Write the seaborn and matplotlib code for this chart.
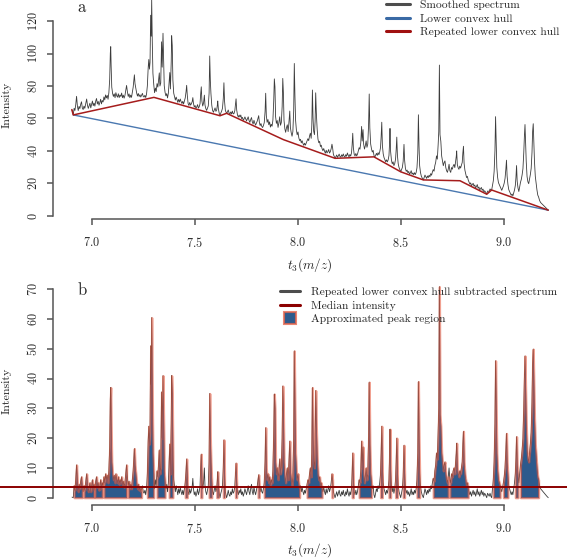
import numpy as np
import matplotlib
matplotlib.use("Agg")
import matplotlib.pyplot as plt
from matplotlib.lines import Line2D
import seaborn as sns

seg1 = [(6.903, 0.2), (6.909, 0.0), (6.913, 4.0), (6.917, 2.5), (6.921, 6.0), (6.925, 11.0), (6.929, 5.0),
        (6.933, 2.0), (6.937, 4.5), (6.941, 3.0), (6.945, 5.5), (6.949, 7.0), (6.953, 3.0), (6.957, 2.0),
        (6.961, 4.0), (6.965, 2.5), (6.969, 5.0), (6.974, 8.0), (6.978, 4.0), (6.982, 2.0), (6.986, 3.5),
        (6.990, 5.0), (6.994, 2.0), (6.998, 4.0), (7.002, 6.0), (7.006, 3.0), (7.010, 4.5), (7.014, 2.5),
        (7.018, 5.5), (7.022, 7.0), (7.026, 3.5), (7.030, 5.0), (7.034, 2.5), (7.038, 4.0), (7.042, 6.0),
        (7.046, 3.0), (7.050, 5.0), (7.054, 4.0), (7.058, 7.0), (7.062, 5.0), (7.066, 8.0), (7.070, 6.0),
        (7.074, 7.5), (7.078, 5.0), (7.082, 9.0), (7.086, 17.0), (7.089, 33.0), (7.091, 37.0), (7.093, 25.0),
        (7.096, 12.0), (7.100, 8.0), (7.104, 6.0), (7.108, 7.5), (7.112, 5.0), (7.116, 8.0), (7.120, 6.0),
        (7.124, 5.0), (7.128, 7.0), (7.132, 4.5), (7.136, 6.0), (7.140, 5.0), (7.144, 7.0), (7.148, 4.0),
        (7.152, 5.5), (7.156, 3.5), (7.160, 5.0), (7.164, 8.0), (7.168, 11.0), (7.172, 7.0), (7.176, 4.0),
        (7.180, 5.5), (7.184, 3.0), (7.188, 4.5), (7.192, 3.0), (7.196, 6.0), (7.200, 9.0), (7.204, 14.0),
        (7.206, 16.5), (7.209, 11.0), (7.213, 8.0), (7.217, 5.0), (7.221, 3.0), (7.225, 4.5), (7.229, 2.5),
        (7.233, 3.5), (7.237, 2.0), (7.241, 3.0), (7.245, 4.0), (7.249, 2.0), (7.253, 1.5), (7.257, 2.5),
        (7.261, 1.0), (7.265, 3.0), (7.269, 8.0), (7.273, 19.0), (7.276, 24.0), (7.279, 18.0), (7.282, 22.0),
        (7.285, 51.0), (7.288, 38.0), (7.290, 60.5), (7.293, 34.0), (7.296, 15.0), (7.300, 8.0), (7.304, 3.0)]

seg2 = [(7.308, 6.0), (7.312, 4.0), (7.316, 9.0), (7.320, 7.0), (7.324, 12.0), (7.327, 16.0), (7.330, 8.0),
        (7.334, 10.0), (7.338, 35.5), (7.341, 20.0), (7.345, 41.0), (7.348, 26.0), (7.351, 9.0), (7.355, 5.0),
        (7.359, 3.0), (7.363, 4.5), (7.367, 2.0), (7.371, 5.0), (7.375, 12.0), (7.378, 18.0), (7.381, 8.0),
        (7.385, 25.0), (7.387, 41.0), (7.390, 35.0), (7.393, 14.0), (7.397, 6.0), (7.401, 4.0), (7.405, 2.0),
        (7.409, 4.0), (7.413, 2.5), (7.417, 1.0), (7.421, 3.0), (7.425, 1.5), (7.429, 3.5), (7.433, 2.0),
        (7.437, 1.0), (7.441, 2.5), (7.445, 1.0), (7.449, 3.0), (7.453, 5.0), (7.457, 9.0), (7.460, 13.0),
        (7.463, 7.0), (7.467, 2.0), (7.471, 1.0), (7.475, 3.0), (7.479, 1.5), (7.483, 2.5), (7.487, 4.0),
        (7.490, 6.5), (7.493, 3.0), (7.497, 1.0), (7.501, 2.0), (7.505, 0.5), (7.509, 1.5), (7.513, 3.0),
        (7.517, 1.0), (7.521, 2.0), (7.525, 4.0), (7.528, 10.0), (7.531, 14.6), (7.534, 6.0), (7.538, 3.0),
        (7.542, 5.0), (7.546, 10.0), (7.549, 4.0), (7.553, 2.0), (7.557, 1.0), (7.561, 2.5), (7.565, 4.0),
        (7.569, 12.0), (7.572, 35.0), (7.575, 20.0), (7.578, 12.0), (7.582, 5.0), (7.586, 2.0), (7.590, 1.0),
        (7.594, 2.5), (7.598, 4.0), (7.602, 2.0), (7.606, 3.0), (7.609, 6.0), (7.611, 8.7), (7.614, 4.0),
        (7.618, 1.5), (7.622, 0.0), (7.626, 1.5), (7.630, 2.5), (7.634, 4.0), (7.638, 10.0), (7.641, 19.4),
        (7.644, 8.0), (7.648, 2.0), (7.654, 0.0)]

seg3 = [(7.658, 1.0), (7.662, 2.5), (7.666, 1.0), (7.670, 0.5), (7.674, 2.0), (7.678, 1.0), (7.682, 3.0),
        (7.686, 1.5), (7.690, 2.0), (7.694, 4.0), (7.697, 8.0), (7.700, 11.6), (7.703, 5.0), (7.707, 2.0),
        (7.711, 1.0), (7.715, 2.5), (7.719, 1.5), (7.723, 3.0), (7.727, 1.0), (7.731, 2.0), (7.735, 0.5),
        (7.739, 1.5), (7.743, 3.0), (7.747, 2.0), (7.751, 1.0), (7.755, 2.5), (7.759, 4.0), (7.763, 2.0),
        (7.767, 1.0), (7.771, 3.0), (7.775, 4.5), (7.779, 2.0), (7.783, 1.0), (7.787, 3.5), (7.791, 2.0),
        (7.795, 1.0), (7.799, 2.5), (7.803, 4.0), (7.807, 6.0), (7.810, 7.7), (7.813, 4.0), (7.817, 2.0),
        (7.821, 3.5), (7.825, 2.0), (7.829, 1.5), (7.833, 3.0), (7.837, 5.0), (7.841, 12.0), (7.844, 23.5),
        (7.847, 10.0), (7.851, 6.0), (7.855, 8.0), (7.859, 5.0), (7.863, 7.0), (7.867, 4.0), (7.871, 6.0),
        (7.875, 5.0), (7.879, 9.0), (7.883, 21.0), (7.886, 34.8), (7.889, 30.0), (7.892, 12.0), (7.896, 8.0),
        (7.900, 10.0), (7.904, 6.0), (7.908, 9.0), (7.912, 13.0), (7.916, 8.0), (7.920, 10.0), (7.924, 20.0),
        (7.927, 37.5), (7.930, 29.0), (7.933, 12.0), (7.937, 7.0), (7.941, 5.0), (7.945, 8.0), (7.949, 10.0),
        (7.953, 6.0), (7.957, 12.0), (7.961, 19.0), (7.964, 9.0), (7.968, 6.0), (7.972, 4.0), (7.976, 7.0),
        (7.980, 20.0), (7.983, 49.3), (7.986, 30.0), (7.989, 15.0), (7.993, 9.0), (7.997, 6.0), (8.001, 8.0),
        (8.005, 4.5), (8.009, 3.0), (8.013, 4.0), (8.017, 2.0), (8.021, 3.5), (8.025, 2.0), (8.029, 1.0),
        (8.033, 2.5), (8.037, 1.5), (8.041, 3.0), (8.045, 4.5), (8.049, 6.0), (8.053, 5.0), (8.057, 8.0),
        (8.061, 10.0), (8.065, 7.0), (8.068, 15.0), (8.071, 37.0), (8.074, 20.0), (8.077, 12.0), (8.081, 10.0),
        (8.084, 18.0), (8.087, 36.0), (8.090, 24.0), (8.094, 14.0), (8.098, 8.0), (8.102, 6.0), (8.106, 7.0),
        (8.110, 4.0), (8.114, 5.0), (8.118, 3.0), (8.122, 2.0), (8.126, 3.5), (8.130, 2.0), (8.134, 1.0),
        (8.138, 3.0), (8.142, 1.5), (8.146, 2.5), (8.150, 4.0), (8.154, 2.0), (8.158, 3.0), (8.162, 5.0),
        (8.166, 8.0), (8.169, 6.0), (8.173, 2.0), (8.177, 1.0), (8.181, 0.0)]

seg4 = [(8.185, 1.0), (8.189, 2.0), (8.193, 0.5), (8.197, 1.5), (8.201, 2.5), (8.205, 1.0), (8.209, 0.5),
        (8.213, 2.0), (8.217, 1.0), (8.221, 2.5), (8.225, 1.0), (8.229, 0.5), (8.233, 2.0), (8.237, 1.0),
        (8.241, 3.0), (8.245, 1.5), (8.249, 0.5), (8.253, 2.0), (8.257, 1.0), (8.261, 3.0), (8.264, 8.0),
        (8.267, 15.0), (8.270, 6.0), (8.274, 2.0), (8.278, 1.0), (8.282, 2.5), (8.286, 1.0), (8.290, 2.0),
        (8.294, 4.0), (8.298, 6.0), (8.302, 5.0), (8.306, 9.0), (8.310, 19.0), (8.313, 10.0), (8.317, 17.0),
        (8.320, 8.0), (8.324, 5.0), (8.328, 7.0), (8.332, 10.0), (8.336, 6.0), (8.340, 8.0), (8.344, 20.0),
        (8.347, 38.8), (8.350, 18.0), (8.354, 8.0), (8.358, 5.0), (8.362, 3.0), (8.366, 4.0), (8.370, 1.0),
        (8.374, 0.0), (8.378, 1.5), (8.382, 3.0), (8.386, 2.0), (8.390, 4.0), (8.394, 3.0), (8.398, 5.0),
        (8.402, 8.0), (8.405, 15.0), (8.408, 24.0), (8.411, 10.0), (8.415, 5.0), (8.419, 3.0), (8.423, 2.0),
        (8.427, 1.0), (8.431, 2.5), (8.435, 1.5), (8.439, 3.0), (8.443, 6.0), (8.446, 14.0), (8.448, 23.0),
        (8.451, 9.0), (8.455, 4.0), (8.459, 2.0), (8.463, 3.5), (8.467, 1.5), (8.471, 3.0), (8.475, 6.0),
        (8.478, 12.0), (8.481, 20.0), (8.484, 9.0), (8.488, 4.0), (8.492, 2.0), (8.496, 1.0), (8.500, 0.0),
        (8.504, 1.5), (8.508, 3.0), (8.512, 7.0), (8.516, 17.6), (8.519, 8.0), (8.523, 3.0), (8.527, 1.5),
        (8.531, 2.5), (8.535, 1.0), (8.539, 2.0), (8.543, 0.5), (8.547, 1.5), (8.551, 3.0), (8.555, 1.0),
        (8.559, 2.0), (8.563, 1.0), (8.567, 2.5), (8.571, 1.5), (8.575, 3.0), (8.579, 6.0), (8.583, 15.0),
        (8.586, 39.0), (8.589, 20.0), (8.592, 8.0), (8.596, 4.0), (8.600, 2.0), (8.604, 1.0), (8.610, 0.0)]

seg5 = [(8.614, 1.5), (8.618, 3.0), (8.622, 2.0), (8.626, 1.0), (8.630, 2.5), (8.634, 1.5), (8.638, 3.0),
        (8.642, 2.0), (8.646, 4.0), (8.650, 3.0), (8.654, 5.0), (8.658, 6.5), (8.662, 5.5), (8.666, 9.0),
        (8.670, 11.0), (8.674, 15.0), (8.678, 13.0), (8.682, 22.0), (8.685, 30.0), (8.688, 70.9), (8.691, 28.0),
        (8.695, 24.0), (8.699, 15.0), (8.703, 12.0), (8.707, 9.0), (8.711, 11.0), (8.715, 12.0), (8.719, 8.0),
        (8.723, 6.0), (8.727, 5.0), (8.731, 7.0), (8.735, 10.0), (8.739, 6.0), (8.743, 5.0), (8.747, 8.0),
        (8.751, 7.0), (8.755, 9.0), (8.759, 10.0), (8.763, 8.0), (8.767, 12.0), (8.770, 15.0), (8.772, 18.3),
        (8.775, 10.0), (8.779, 8.0), (8.783, 7.0), (8.787, 9.0), (8.791, 8.0), (8.795, 10.0), (8.799, 12.0),
        (8.802, 18.0), (8.805, 22.3), (8.808, 12.0), (8.812, 8.0), (8.816, 6.0), (8.820, 4.0), (8.824, 5.0),
        (8.828, 3.0), (8.832, 2.0), (8.836, 1.0), (8.840, 2.0), (8.844, 0.5), (8.848, 1.5), (8.852, 2.5),
        (8.856, 1.0), (8.860, 2.0), (8.864, 0.5), (8.868, 1.5), (8.872, 3.0), (8.876, 1.0), (8.880, 2.0),
        (8.884, 0.5), (8.888, 1.5), (8.892, 2.5), (8.896, 1.0), (8.900, 2.0), (8.904, 0.5), (8.908, 1.5),
        (8.912, 1.0), (8.918, 0.0), (8.922, 1.5), (8.926, 1.0), (8.930, 0.5), (8.934, 1.5), (8.938, 0.5),
        (8.942, 0.0), (8.946, 3.0), (8.950, 6.0), (8.954, 12.0), (8.958, 25.0), (8.961, 46.0), (8.964, 30.0),
        (8.967, 15.0), (8.971, 9.0), (8.975, 6.0), (8.979, 5.0), (8.983, 4.0), (8.987, 3.0), (8.991, 2.0),
        (8.995, 3.5), (8.999, 5.0), (9.003, 7.0), (9.007, 10.0), (9.011, 16.0), (9.014, 21.6), (9.017, 12.0),
        (9.021, 7.0), (9.025, 4.0), (9.029, 3.0), (9.033, 2.0), (9.037, 1.0), (9.041, 2.0), (9.045, 1.0),
        (9.049, 3.0), (9.053, 5.0), (9.057, 8.0), (9.060, 13.0), (9.063, 20.5), (9.066, 11.0), (9.070, 7.0),
        (9.074, 5.0), (9.078, 8.0), (9.082, 11.0), (9.086, 13.0), (9.090, 16.0), (9.094, 20.0), (9.098, 30.0),
        (9.101, 40.0), (9.104, 47.6), (9.107, 36.0), (9.110, 25.0), (9.114, 16.0), (9.118, 13.0), (9.122, 12.0),
        (9.126, 15.0), (9.130, 18.0), (9.134, 22.0), (9.138, 32.0), (9.141, 45.0), (9.144, 49.9), (9.147, 38.0),
        (9.150, 27.0), (9.154, 18.0), (9.158, 14.0), (9.162, 10.0), (9.166, 7.0), (9.170, 6.0), (9.175, 4.0),
        (9.180, 3.0), (9.186, 2.5), (9.192, 2.0), (9.198, 1.5), (9.204, 1.0), (9.210, 0.5), (9.217, 0.0)]

# repeated lower convex hull vertices
hull_mz = [6.902, 6.909, 7.301, 7.622, 7.654, 7.930, 8.181, 8.370, 8.500, 8.610, 8.788, 8.918, 8.942, 9.217]
hull_int = [65.5, 62.2, 73.0, 61.7, 63.2, 47.0, 35.5, 36.4, 27.2, 22.2, 21.7, 13.4, 16.0, 3.6]

# lower convex hull (single segment)
lch_mz = [6.909, 9.217]
lch_int = [62.2, 3.6]

median_int = 3.5

# approximated peak regions (start, end)
peak_lo = [6.912, 6.958, 7.013, 7.055, 7.173, 7.266, 7.314, 7.372, 7.453, 7.526, 7.566, 7.606, 7.636, 7.695,
           7.805, 7.835, 8.045, 8.163, 8.263, 8.298, 8.401, 8.441, 8.473, 8.509, 8.578, 8.657, 8.737,
           8.947, 8.997, 9.054, 9.080]
peak_hi = [6.955, 7.010, 7.052, 7.170, 7.242, 7.302, 7.356, 7.396, 7.466, 7.536, 7.582, 7.615, 7.646, 7.705,
           7.815, 8.012, 8.118, 8.171, 8.271, 8.358, 8.413, 8.453, 8.487, 8.521, 8.594, 8.733, 8.830,
           8.984, 9.024, 9.070, 9.170]

pts = seg1 + seg2 + seg3 + seg4 + seg5
mz = np.array([p[0] for p in pts])
corrected = np.array([p[1] for p in pts])
smoothed = corrected + np.interp(mz, hull_mz, hull_int)

sns.set_style("ticks")
plt.rcParams['font.family'] = ['cmr10', 'DejaVu Serif']
plt.rcParams['mathtext.fontset'] = 'cm'
plt.rcParams['axes.formatter.use_mathtext'] = True

W, H = 567, 560
fig = plt.figure(figsize=(W / 100, H / 100), dpi=100)
ax1 = fig.add_axes([53 / W, 1 - 219 / H, 514 / W, 219 / H])
ax2 = fig.add_axes([53 / W, 54.7 / H, 514 / W, 225.3 / H])

grey = '#3c3c3c'
blue = '#4a78b0'
red = '#a51c1c'
fillblue = '#2d5a8c'
edge = (0.90, 0.33, 0.22, 0.55)

# panel a
sns.lineplot(x=mz, y=smoothed, ax=ax1, color=grey, linewidth=0.6, estimator=None, sort=False)
sns.lineplot(x=lch_mz, y=lch_int, ax=ax1, color=blue, linewidth=1.0, estimator=None, sort=False)
sns.lineplot(x=hull_mz, y=hull_int, ax=ax1, color=red, linewidth=1.1, estimator=None, sort=False)
ax1.set_xlim(7 - 39 / 205.8, 7 + 475 / 205.8)
ax1.set_ylim(-3 / 1.625, 216 / 1.625)
ax1.set_yticks(range(0, 121, 20))

# panel b
sns.lineplot(x=mz, y=corrected, ax=ax2, color=grey, linewidth=0.6, estimator=None, sort=False)
for lo, hi in zip(peak_lo, peak_hi):
    m = (mz >= lo) & (mz <= hi)
    ax2.fill_between(mz[m], 0, corrected[m], facecolor=fillblue, edgecolor=edge, linewidth=1.6, zorder=3)
ax2.axhline(median_int, xmin=-53 / 514, xmax=1, color='#8b0000', linewidth=1.4, clip_on=False, zorder=4)
ax2.set_xlim(7 - 39 / 205.8, 7 + 475 / 205.8)
ax2.set_ylim((497.7 - 505.3) / 2.977, (497.7 - 280) / 2.977)
ax2.set_yticks(range(0, 71, 10))

for ax in (ax1, ax2):
    ax.set_xticks([7.0, 7.5, 8.0, 8.5, 9.0])
    ax.set_xlabel('')
    ax.set_ylabel('')
    ax.spines['top'].set_visible(False)
    ax.spines['right'].set_visible(False)
    for s in ('left', 'bottom'):
        ax.spines[s].set_color('#555555')
        ax.spines[s].set_linewidth(1.1)
    ax.spines['bottom'].set_bounds(7.0, 9.0)
    ax.tick_params(axis='both', direction='out', length=4.5, width=1.1, color='#555555', labelsize=8.8)
    ax.tick_params(axis='x', pad=7.5)
    ax.tick_params(axis='y', pad=5.0, labelrotation=90)
    for t in ax.get_yticklabels():
        t.set_va('center')
    ax.patch.set_alpha(0)
ax1.spines['left'].set_bounds(0, 120)
ax2.spines['left'].set_bounds(0, 70)

# labels
fig.text(82 / W, 1 - 7 / H, 'a', fontsize=12, ha='center', va='center')
fig.text(82 / W, 1 - 290 / H, 'b', fontsize=12, ha='center', va='center')
fig.text(7 / W, 1 - 105 / H, 'Intensity', fontsize=8.6, rotation=90, ha='center', va='center')
fig.text(7 / W, 1 - 391 / H, 'Intensity', fontsize=8.6, rotation=90, ha='center', va='center')
fig.text(310 / W, 1 - 265 / H, r'$t_3(m/z)$', fontsize=9.5, ha='center', va='center')
fig.text(310 / W, 1 - 550 / H, r'$t_3(m/z)$', fontsize=9.5, ha='center', va='center')

# legends
h1 = [Line2D([0], [0], color='#4d4d4d', lw=2.2),
      Line2D([0], [0], color='#3a6aa5', lw=2.2),
      Line2D([0], [0], color='#a01010', lw=2.2)]
ax1.legend(h1, ['Smoothed spectrum', 'Lower convex hull', 'Repeated lower convex hull'],
           loc='upper left', bbox_to_anchor=(386 / W, 1 - 0 / H), bbox_transform=fig.transFigure,
           frameon=False, fontsize=8.3, handlelength=2.1, handletextpad=0.85, labelspacing=0.3,
           borderpad=0, borderaxespad=0)
h2 = [Line2D([0], [0], color='#4d4d4d', lw=2.2),
      Line2D([0], [0], color='#8b0000', lw=2.2),
      Line2D([0], [0], marker='s', markersize=8, linestyle='none', markerfacecolor=fillblue,
             markeredgecolor=(0.9, 0.4, 0.3, 0.8), markeredgewidth=1.5)]
ax2.legend(h2, ['Repeated lower convex hull subtracted spectrum', 'Median intensity', 'Approximated peak region'],
           loc='upper left', bbox_to_anchor=(280 / W, 1 - 287 / H), bbox_transform=fig.transFigure,
           frameon=False, fontsize=8.3, handlelength=1.75, handletextpad=0.9, labelspacing=0.3,
           borderpad=0, borderaxespad=0)

fig.savefig('out.png', dpi=100)
